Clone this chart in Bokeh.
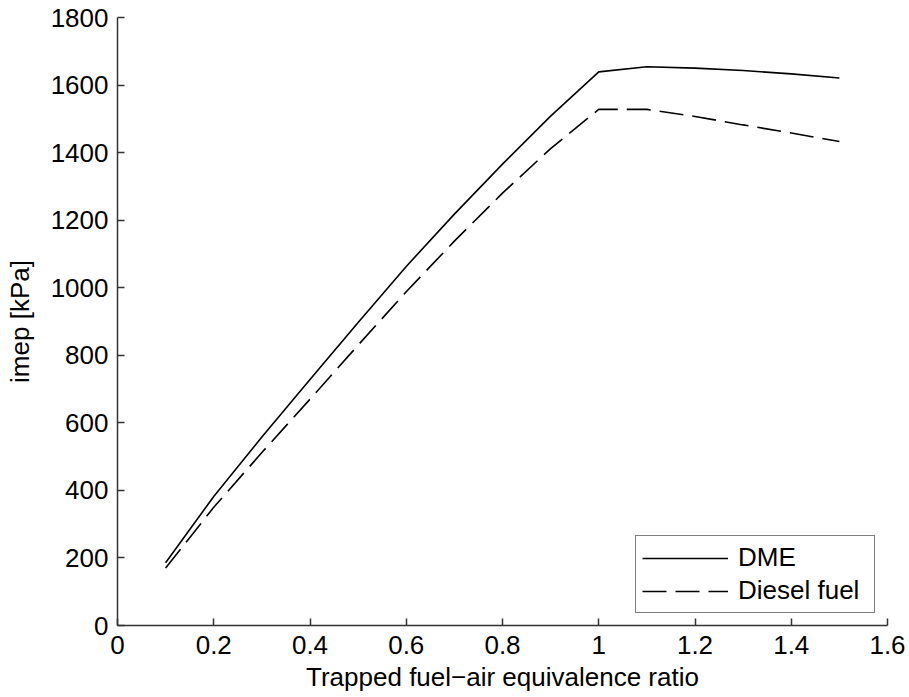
from bokeh.plotting import figure
from bokeh.models import FixedTicker, Legend, LegendItem, Range1d
from bokeh.embed import file_html
from bokeh.resources import INLINE

# ---- data ----
phi = [0.1, 0.2, 0.3, 0.4, 0.5, 0.6, 0.7, 0.8, 0.9, 1.0, 1.1, 1.2, 1.3, 1.4, 1.5]
imep_dme = [186, 382, 558, 728, 897, 1063, 1218, 1366, 1508, 1639, 1654, 1650, 1643, 1633, 1621]
imep_diesel = [170, 350, 512, 670, 830, 988, 1138, 1280, 1412, 1528, 1528, 1507, 1482, 1458, 1433]

x_ticks = [0, 0.2, 0.4, 0.6, 0.8, 1.0, 1.2, 1.4, 1.6]
x_tick_labels = ["0", "0.2", "0.4", "0.6", "0.8", "1", "1.2", "1.4", "1.6"]
y_ticks = [0, 200, 400, 600, 800, 1000, 1200, 1400, 1600, 1800]
y_tick_labels = [str(v) for v in y_ticks]

x_title = "Trapped fuel\u2212air equivalence ratio"
y_title = "imep [kPa]"
series_names = ["DME", "Diesel fuel"]

FONT = "Liberation Sans"
FS = "26px"

p = figure(width=909, height=697, output_backend="svg", toolbar_location=None,
           x_range=Range1d(0, 1.6), y_range=Range1d(0, 1800),
           min_border_left=117, min_border_right=22, min_border_top=17, min_border_bottom=72)
p.outline_line_color = None
p.grid.visible = False
p.background_fill_color = "white"
p.border_fill_color = "white"

r1 = p.line(phi, imep_dme, line_color="black", line_width=1.6)
r2 = p.line(phi, imep_diesel, line_color="black", line_width=1.6, line_dash="24 9")

for ax, ticks, labels in ((p.xaxis[0], x_ticks, x_tick_labels), (p.yaxis[0], y_ticks, y_tick_labels)):
    ax.ticker = FixedTicker(ticks=ticks)
    ax.major_label_overrides = {t: l for t, l in zip(ticks, labels)}
    ax.major_tick_in = 7
    ax.major_tick_out = 0
    ax.minor_tick_line_color = None
    ax.axis_line_color = "#333333"
    ax.axis_line_width = 1.5
    ax.major_tick_line_color = "#333333"
    ax.major_tick_line_width = 1.5
    ax.major_label_text_font = FONT
    ax.major_label_text_font_size = FS
    ax.major_label_text_color = "black"
    ax.axis_label_text_font = FONT
    ax.axis_label_text_font_size = FS
    ax.axis_label_text_font_style = "normal"
    ax.axis_label_text_color = "black"

p.xaxis.axis_label = x_title
p.yaxis.axis_label = y_title
p.xaxis.major_label_standoff = 10
p.xaxis.axis_label_standoff = 5
p.yaxis.major_label_standoff = 9
p.yaxis.axis_label_standoff = 13

legend = Legend(items=[LegendItem(label=series_names[0], renderers=[r1]),
                       LegendItem(label=series_names[1], renderers=[r2])],
                location="bottom_right", margin=12, padding=6, spacing=2,
                glyph_width=86, glyph_height=24, label_height=24, label_width=130,
                label_standoff=10,
                label_text_font=FONT, label_text_font_size=FS, label_text_color="black",
                border_line_color="black", border_line_width=1.2,
                background_fill_color="white", background_fill_alpha=1.0)
p.add_layout(legend, "center")

open("out.html", "w").write(file_html(p, INLINE))
